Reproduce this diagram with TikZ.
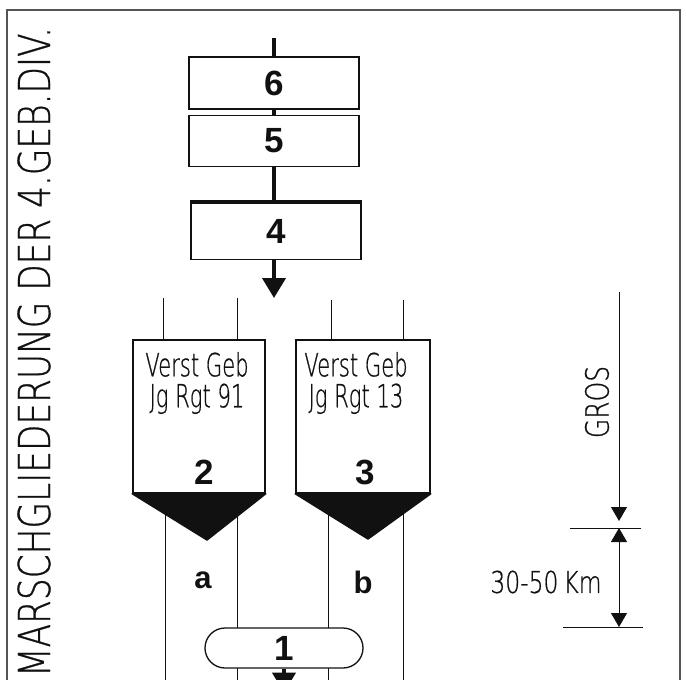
\documentclass[tikz,border=0pt]{standalone}
\usepackage{fontspec}
\setmainfont{Liberation Sans}
\newfontfamily\lettering[FakeStretch=0.78, FakeBold=0.6]{DejaVu Sans ExtraLight}
\newfontfamily\handfont[FakeStretch=0.66, FakeBold=0.6]{DejaVu Sans ExtraLight}
\usetikzlibrary{arrows.meta,positioning,calc,shapes.misc}
\definecolor{ink}{HTML}{111111}
\definecolor{framegray}{HTML}{555555}

\begin{document}
\begin{tikzpicture}[x=1pt, y=-1pt, line cap=butt, ink,
  numbox/.style={draw, fill=white, line width=1.3pt, minimum width=170pt, inner sep=0pt, font=\fontsize{35}{35}\selectfont\bfseries},
  unit/.style={draw, fill=white, line width=1.5pt, minimum width=132pt, minimum height=153pt, inner sep=0pt},
  pill/.style={rounded rectangle, draw, fill=white, line width=1.3pt, minimum width=158pt, minimum height=40pt, inner sep=0pt, font=\fontsize{35}{35}\selectfont\bfseries},
  road/.style={line width=0.9pt},
  stem/.style={line width=4pt},
  bigtip/.style={-{Triangle[length=20pt,width=23pt]}},
  hand/.style={font=\fontsize{32}{31}\handfont, align=center},
  tag/.style={font=\fontsize{31}{31}\selectfont\bfseries}]
  \fill[white] (0,0) rectangle (686,680);
  \useasboundingbox (0,0) rectangle (686,680);
  % frame and title
  \draw[framegray, line width=1.2pt] (7,690) -- (7,10) -- (680,10) -- (680,690);
  \node[font=\fontsize{44}{44}\lettering, rotate=90] (title) at (34,352) {MARSCHGLIEDERUNG DER 4.GEB.DIV.};
  % column of 6, 5, 4
  \coordinate (in) at (274,38);
  \coordinate (out4) at (274,298);
  \node[numbox, minimum height=52pt] (b6) at (274,83) {6};
  \node[numbox, minimum height=51pt] (b5) at (274,141) {5};
  \node[numbox, minimum height=57pt] (b4) at (276,231) {4};
  \draw[stem] (in) -- (b6.north);
  \draw[stem] (b6.south) -- (b5.north);
  \draw[stem] (b5.south) -- (b4.north -| b5.south);
  \draw[stem] (b4.north west) -- (b4.north east);
  \draw[stem, bigtip] (b4.south -| out4) -- (out4);
  % roads
  \coordinate (r2l) at (163,298); \coordinate (r2r) at (237,298);
  \coordinate (r3l) at (331,300); \coordinate (r3r) at (403,300);
  \coordinate (s2l) at (165,690); \coordinate (s2r) at (237,690);
  \coordinate (s3l) at (328,690); \coordinate (s3r) at (403,690);
  \draw[road] (r2l) -- (r2l |- 0,340) (r2r) -- (r2r |- 0,340);
  \draw[road] (r3l) -- (r3l |- 0,340) (r3r) -- (r3r |- 0,340);
  \foreach \s in {s2l,s2r,s3l,s3r}
    \draw[road] (\s |- 0,500) -- (\s);
  % regiments 2 and 3
  \node[unit] (u2) at (199,416.5) {};
  \node[unit, minimum width=134pt] (u3) at (363,416.5) {};
  \coordinate (tip2) at (207,540);
  \coordinate (tip3) at (368,539);
  \filldraw[line width=1.5pt, line join=round] (u2.south west) -- (u2.south east) -- (tip2) -- cycle;
  \filldraw[line width=1.5pt, line join=round] (u3.south west) -- (u3.south east) -- (tip3) -- cycle;
  \node[hand] (t2) at (197,383) {Verst Geb\\Jg Rgt 91};
  \node[hand] (t3) at (356,383) {Verst Geb\\Jg Rgt 13};
  \node[font=\fontsize{35}{35}\selectfont\bfseries] (n2) at (204,472) {2};
  \node[font=\fontsize{35}{35}\selectfont\bfseries] (n3) at (365,472) {3};
  \node[tag] (la) at (203,580) {a};
  \node[tag] (lb) at (363,582) {b};
  % head 1
  \node[pill] (p1) at (284,648) {1};
  \draw[stem, bigtip] (p1.south) -- ++(0,24);
  % scale
  \coordinate (gtop) at (619,292);
  \coordinate (k1) at (619,528);
  \coordinate (k2) at (619,627);
  \draw[road, shorten >=7pt, -{Triangle[length=14pt,width=16pt]}] (gtop) -- (k1);
  \draw[road, {Triangle[length=14pt,width=16pt]}-{Triangle[length=14pt,width=16pt]}] (k1) -- (k2);
  \draw[road] ($(k1)+(-49,0)$) -- ($(k1)+(22,0)$);
  \draw[road] ($(k2)+(-56,0)$) -- ($(k2)+(24,0)$);
  \node[font=\fontsize{32}{32}\lettering, rotate=90] (gros) at (597,402) {GROS};
  \node[font=\fontsize{30}{30}\lettering] (km) at (546,582) {30-50\,Km};
\end{tikzpicture}
\end{document}
